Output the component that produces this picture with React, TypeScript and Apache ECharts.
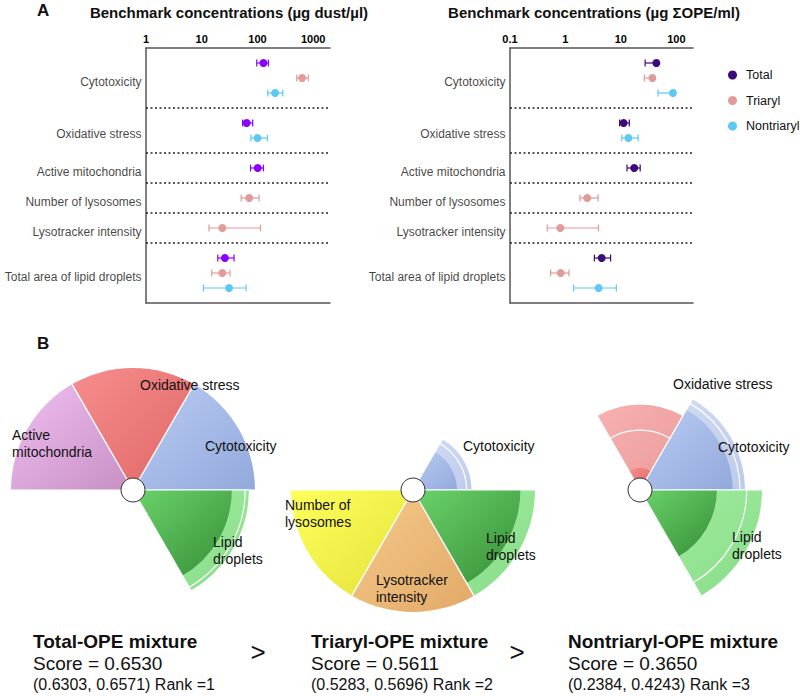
import React, { useEffect, useRef } from 'react';
import * as echarts from 'echarts';

// ---------- Panel A data ----------
const rowLabels = [
  'Cytotoxicity',
  'Oxidative stress',
  'Active mitochondria',
  'Number of lysosomes',
  'Lysotracker intensity',
  'Total area of lipid droplets',
];
const groupNames = ['Total', 'Triaryl', 'Nontriaryl'];

// [benchmark concentration, lower, upper]; null = not reported
const dustTotal = [[128, 97, 157], [64, 54, 82], [101, 75, 128], null, null, [26, 19.4, 38]];
const dustTriaryl = [[632, 507, 820], null, null, [71, 51, 107], [23.4, 13.5, 113], [23.4, 15.1, 32.2]];
const dustNontriaryl = [[207, 153, 284], [100, 76, 151], null, null, null, [30.9, 10.7, 62.4]];

const opeTotal = [[43.6, 27.4, 47], [11.2, 9.5, 14.2], [17.4, 12.9, 22.3], null, null, [4.51, 3.33, 6.53]];
const opeTriaryl = [[37, 26.5, 39], null, null, [2.47, 1.82, 3.88], [0.81, 0.47, 3.94], [0.82, 0.54, 1.16]];
const opeNontriaryl = [[87, 46.8, 90], [13.7, 10.4, 20.5], null, null, null, [3.98, 1.4, 8.28]];

const dustTicks = [1, 10, 100, 1000];
const opeTicks = [0.1, 1, 10, 100];
const dustRange = [1, 2000];
const opeRange = [0.1, 200];

// ---------- Panel B data ----------
const sliceNames = ['Cytotoxicity', 'Oxidative stress', 'Active mitochondria', 'Number of lysosomes', 'Lysotracker intensity', 'Lipid droplets'];
// [lower, estimate, upper] slice scores
const totalSlices = [[1, 1, 1], [1, 1, 1], [1, 1, 1], [0, 0, 0], [0, 0, 0], [0.81, 0.92, 0.95]];
const triarylSlices = [[0.36, 0.44, 0.48], [0, 0, 0], [0, 0, 0], [1, 1, 1], [1, 1, 1], [0.88, 1, 1]];
const nontriarylSlices = [[0.76, 0.82, 0.86], [0.18, 0.49, 0.7], [0, 0, 0], [0, 0, 0], [0, 0, 0], [0.63, 0.875, 1]];

const mixtureNames = ['Total-OPE mixture', 'Triaryl-OPE mixture', 'Nontriaryl-OPE mixture'];
const mixtureScores = ['0.6530', '0.5611', '0.3650'];
const mixtureCIs = [['0.6303', '0.6571'], ['0.5283', '0.5696'], ['0.2384', '0.4243']];
const mixtureRanks = [1, 2, 3];

// ---------- styling ----------
const FONT = '"Liberation Sans", Arial, Helvetica, sans-serif';
const AXIS_COLOR = '#555555';
const dustColors = ['#8a00ff', '#e29a9a', '#5ec8f4'];
const opeColors = ['#3d0a7a', '#e29a9a', '#5ec8f4'];
const sliceColors = [
  { main: ['#b9ccf3', '#93a9db'], light: ['#d3def6', '#bdcbeb'] },
  { main: ['#f78d8d', '#e06666'], light: ['#f8b1b1', '#eb9a9a'] },
  { main: ['#f1bff3', '#c68fc2'], light: ['#f6d6f6', '#e0b8e0'] },
  { main: ['#ffff5c', '#e3e23a'], light: ['#ffffa0', '#f0f080'] },
  { main: ['#f5ca8c', '#e2a966'], light: ['#f8dcb0', '#edc890'] },
  { main: ['#6bd36b', '#368e36'], light: ['#a3eea3', '#87dc87'] },
];
const pieLayouts = [
  { center: [133, 490], slices: totalSlices },
  { center: [413, 490], slices: triarylSlices },
  { center: [640, 490], slices: nontriarylSlices },
];
const pieLabels = [
  [['Oxidative stress', 140, 376], ['Active\nmitochondria', 12, 426], ['Cytotoxicity', 205, 437], ['Lipid\ndroplets', 213, 533]],
  [['Cytotoxicity', 463, 437], ['Number of\nlysosomes', 285, 496], ['Lipid\ndroplets', 486, 529], ['Lysotracker\nintensity', 376, 571]],
  [['Oxidative stress', 673, 375], ['Cytotoxicity', 718, 438], ['Lipid\ndroplets', 732, 528]],
];
const columnX = [33, 311, 568];

function buildSlots(groups: any[]) {
  const slots = groups.map(() => Array(rowLabels.length).fill(null));
  const seps: number[] = [];
  const labelPos: number[] = [];
  let c = 0;
  rowLabels.forEach((_, r) => {
    const ys: number[] = [];
    groups.forEach((g, gi) => {
      if (g[r]) {
        c += 1;
        slots[gi][r] = c;
        ys.push(c);
      }
    });
    labelPos.push(ys.reduce((a, b) => a + b, 0) / ys.length);
    c += 1;
    if (r < rowLabels.length - 1) seps.push(c);
  });
  return { slots, seps, labelPos, max: c };
}

const errorBar = (color: string) => (params: any, api: any) => {
  const y = api.value(1);
  const lo = api.coord([api.value(2), y]);
  const hi = api.coord([api.value(3), y]);
  const h = 3.4;
  const style = { stroke: color, lineWidth: 1.2, fill: null };
  return {
    type: 'group',
    children: [
      { type: 'line', shape: { x1: lo[0], y1: lo[1], x2: hi[0], y2: hi[1] }, style },
      { type: 'line', shape: { x1: lo[0], y1: lo[1] - h, x2: lo[0], y2: lo[1] + h }, style },
      { type: 'line', shape: { x1: hi[0], y1: hi[1] - h, x2: hi[0], y2: hi[1] + h }, style },
    ],
  };
};

function panel(gi: number, groups: any[], ticks: number[], range: number[], colors: string[], left: number, width: number) {
  const layout = buildSlots(groups);
  const xTop = gi * 2;
  const lineStyle = { color: AXIS_COLOR, width: 1.5 };
  const grid = { left, top: 48, width, height: 255 };
  const xAxes = [
    {
      gridIndex: gi, type: 'log', logBase: 10, min: range[0], max: range[1], position: 'top',
      axisLine: { show: true, onZero: false, lineStyle },
      axisTick: { show: false }, splitLine: { show: false },
      axisLabel: {
        margin: 4, color: '#000', fontFamily: FONT, fontWeight: 'bold', fontSize: 11,
        formatter: (v: number) => {
          const t = ticks.find((k) => Math.abs(v - k) / k < 1e-6);
          return t !== undefined ? String(t) : '';
        },
      },
    },
    {
      gridIndex: gi, type: 'log', logBase: 10, min: range[0], max: range[1], position: 'bottom',
      axisLine: { show: true, onZero: false, lineStyle },
      axisTick: { show: false }, splitLine: { show: false }, axisLabel: { show: false },
    },
  ];
  const yAxis = {
    gridIndex: gi, type: 'value', min: 0, max: layout.max, inverse: true,
    axisLine: { show: true, onZero: false, lineStyle },
    axisTick: { show: false }, axisLabel: { show: false }, splitLine: { show: false },
  };
  const series: any[] = [];
  groups.forEach((g, k) => {
    const pts: number[][] = [];
    g.forEach((d: number[] | null, r: number) => {
      if (d) pts.push([d[0], layout.slots[k][r], d[1], d[2]]);
    });
    series.push({
      type: 'custom', name: groupNames[k], xAxisIndex: xTop, yAxisIndex: gi,
      data: pts, encode: { x: [2, 3], y: 1 }, renderItem: errorBar(colors[k]), z: 2, silent: true,
    });
    series.push({
      type: 'scatter', name: groupNames[k], xAxisIndex: xTop, yAxisIndex: gi,
      data: pts.map((p) => [p[0], p[1]]), symbolSize: 8, itemStyle: { color: colors[k], opacity: 1 }, z: 3, silent: true,
    });
  });
  series.push({
    type: 'scatter', name: 'rows' + gi, xAxisIndex: xTop, yAxisIndex: gi, clip: false, silent: true,
    symbolSize: 1, itemStyle: { color: 'rgba(0,0,0,0)' },
    data: rowLabels.map((lab, r) => ({ value: [range[0], layout.labelPos[r] + 0.25], name: lab })),
    label: { show: true, position: 'left', distance: 4, formatter: '{b}', color: '#111', fontSize: 12, fontFamily: FONT },
    markLine: {
      silent: true, symbol: ['none', 'none'], label: { show: false },
      lineStyle: { color: '#222', type: [2, 2.5], width: 1.6 },
      data: layout.seps.map((s) => ({ yAxis: s })),
    },
  });
  return { grid, xAxes, yAxis, series };
}

const slicePie = (params: any, api: any) => {
  const cs = params.coordSys;
  const cx = cs.cx, cy = cs.cy;
  const k = api.value(1);
  const upper = api.value(0), lower = api.value(2), est = api.value(3);
  if (!(upper > 0)) return null;
  const rad = (v: number) => {
    const p = api.coord([v, k]);
    return Math.hypot(p[0] - cx, p[1] - cy);
  };
  const pm = api.coord([1, k]);
  const mid = Math.atan2(pm[1] - cy, pm[0] - cx);
  const half = Math.PI / sliceNames.length;
  const a0 = mid - half, a1 = mid + half;
  const col = sliceColors[k];
  const grad = (c: string[]) => new echarts.graphic.LinearGradient(0, 0, 1, 1, [
    { offset: 0, color: c[0] }, { offset: 1, color: c[1] },
  ]);
  const rU = rad(upper), rL = rad(lower), rE = rad(est);
  const children: any[] = [];
  if (rU > rL + 0.5) {
    children.push({ type: 'sector', shape: { cx, cy, r0: 0, r: rU, startAngle: a0, endAngle: a1, clockwise: true }, style: { fill: grad(col.light) } });
  }
  if (rL > 0.5) {
    children.push({ type: 'sector', shape: { cx, cy, r0: 0, r: rL, startAngle: a0, endAngle: a1, clockwise: true }, style: { fill: grad(col.main) } });
  }
  if (rE > rL + 0.5 && rE < rU - 0.5) {
    children.push({ type: 'arc', shape: { cx, cy, r: rE, startAngle: a0, endAngle: a1, clockwise: true }, style: { stroke: '#fff', lineWidth: 1.2, fill: null } });
  }
  [a0, a1].forEach((a) => children.push({
    type: 'line', shape: { x1: cx, y1: cy, x2: cx + rU * Math.cos(a), y2: cy + rU * Math.sin(a) },
    style: { stroke: '#fff', lineWidth: 1.2 },
  }));
  return { type: 'group', children };
};

function text(t: string, x: number, y: number, size: number, bold = false, align = 'left', vAlign = 'top', lineHeight?: number) {
  return {
    type: 'text', x, y, z: 100,
    style: {
      text: t, fill: '#111', fontFamily: FONT, fontSize: size, fontWeight: bold ? 'bold' : 'normal',
      align, verticalAlign: vAlign, textAlign: align, textVerticalAlign: vAlign,
      lineHeight: lineHeight || Math.round(size * 1.25),
    },
  };
}

function buildOption() {
  const left = panel(0, [dustTotal, dustTriaryl, dustNontriaryl], dustTicks, dustRange, dustColors, 146, 184);
  const right = panel(1, [opeTotal, opeTriaryl, opeNontriaryl], opeTicks, opeRange, opeColors, 510, 183);

  const pieSeries: any[] = [];
  pieLayouts.forEach((p, i) => {
    pieSeries.push({
      type: 'custom', name: 'pie' + i, coordinateSystem: 'polar', polarIndex: i, silent: true,
      data: p.slices.map((s, k) => [s[2], k, s[0], s[1]]),
      encode: { radius: 0, angle: 1 },
      renderItem: slicePie, z: 2,
    });
    pieSeries.push({
      type: 'scatter', name: 'hub' + i, coordinateSystem: 'polar', polarIndex: i, silent: true,
      data: [[0, 0]], symbolSize: 24, z: 5,
      itemStyle: { color: '#ffffff', borderColor: '#333', borderWidth: 1, opacity: 1 },
    });
  });

  const graphics: any[] = [
    text('A', 37, 10, 17, true, 'left', 'middle'),
    text('B', 37, 343, 17, true, 'left', 'middle'),
    text('Benchmark concentrations (µg dust/µl)', 229, 12, 15, true, 'center', 'middle'),
    text('Benchmark concentrations (µg ΣOPE/ml)', 594, 12, 15, true, 'center', 'middle'),
  ];
  pieLabels.forEach((labels) => labels.forEach(([t, x, y]) => {
    graphics.push(text(t as string, x as number, y as number, 14, false, 'left', 'top', 17.5));
  }));
  mixtureNames.forEach((name, i) => {
    const x = columnX[i];
    graphics.push(text(name, x, 641, 19, true, 'left', 'middle'));
    graphics.push(text('Score = ' + mixtureScores[i], x, 663, 19, false, 'left', 'middle'));
    graphics.push(text('(' + mixtureCIs[i][0] + ', ' + mixtureCIs[i][1] + ') Rank =' + mixtureRanks[i], x, 684, 16, false, 'left', 'middle'));
  });
  graphics.push(text('>', 258, 652, 26, false, 'center', 'middle'));
  graphics.push(text('>', 517, 652, 26, false, 'center', 'middle'));

  return {
    animation: false,
    backgroundColor: '#ffffff',
    textStyle: { fontFamily: FONT },
    legend: {
      orient: 'vertical', left: 723, top: 62, icon: 'circle',
      itemWidth: 9, itemHeight: 9, itemGap: 9.5, selectedMode: false,
      textStyle: { fontSize: 12.5, color: '#111', lineHeight: 16, padding: [0, 0, 0, 4], fontFamily: FONT },
      data: groupNames.map((n, k) => ({ name: n, itemStyle: { color: opeColors[k] } })),
    },
    grid: [left.grid, right.grid],
    xAxis: [...left.xAxes, ...right.xAxes],
    yAxis: [left.yAxis, right.yAxis],
    polar: pieLayouts.map((p) => ({ center: p.center, radius: 122 })),
    angleAxis: pieLayouts.map((_, i) => ({
      polarIndex: i, type: 'category', data: sliceNames, startAngle: 0, clockwise: false, show: false,
    })),
    radiusAxis: pieLayouts.map((_, i) => ({ polarIndex: i, type: 'value', min: 0, max: 1, show: false })),
    series: [...right.series, ...left.series, ...pieSeries],
    graphic: graphics,
  };
}

export default function App() {
  const ref = useRef<HTMLDivElement>(null);
  useEffect(() => {
    document.body.style.margin = '0';
    const chart = echarts.init(ref.current as HTMLDivElement, null, { renderer: 'svg' });
    chart.setOption(buildOption() as any);
    return () => chart.dispose();
  }, []);
  return <div ref={ref} style={{ width: 800, height: 696, background: '#fff' }} />;
}
